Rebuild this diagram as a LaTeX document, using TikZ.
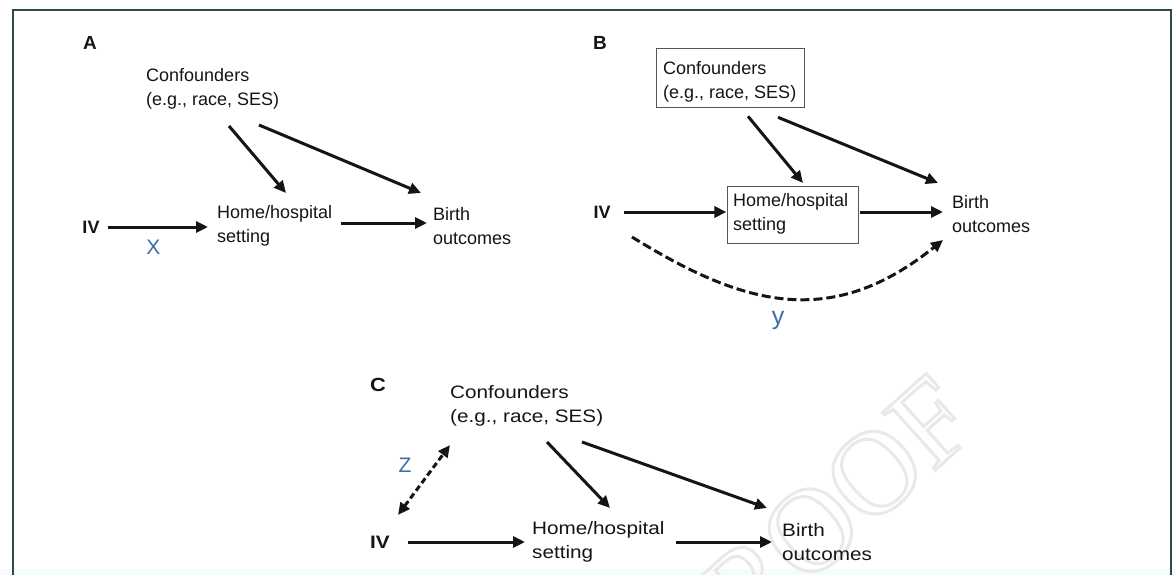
\documentclass[tikz,border=0pt]{standalone}
\usepackage{fontspec}
\setmainfont{Liberation Sans}
\newfontfamily\widefont[FakeStretch=1.15]{Liberation Sans}
\newfontfamily\wmfont{Liberation Serif}
\usetikzlibrary{arrows.meta}

\definecolor{ink}{HTML}{151515}
\definecolor{coefblue}{HTML}{3E6FA8}
\definecolor{framecol}{HTML}{2F4A4C}
\definecolor{boxcol}{HTML}{555555}

% outlined lettering (text render mode 1 = stroke only)
\newcommand{\outlined}[1]{\special{pdf:literal direct 1 Tr 3 w}#1\special{pdf:literal direct 0 Tr}}

\begin{document}
\begin{tikzpicture}[x=1pt,y=-1pt,
  lbl/.style={font=\fontsize{18}{24.5}\selectfont, text=ink, align=left, inner sep=0pt, anchor=west},
  lblw/.style={lbl, font=\widefont\fontsize{18}{24.5}\selectfont},
  panel/.style={font=\fontsize{19}{20}\selectfont\bfseries, text=ink, inner sep=0pt},
  ivlbl/.style={font=\fontsize{18}{20}\selectfont\bfseries, text=ink, inner sep=0pt},
  coef/.style={font=\fontsize{21}{24}\selectfont, text=coefblue, inner sep=0pt},
  arr/.style={draw=ink, line width=3pt, -{Triangle[length=12pt,width=11pt]}},
  dasharr/.style={arr, dash pattern=on 9pt off 4pt},
  framebox/.style={draw=boxcol, line width=1.3pt, inner sep=0pt, anchor=north west}
]
\useasboundingbox (0,0) rectangle (1176,575);
\fill[white] (0,0) rectangle (1176,575);
\fill[cyan!4] (0,569) rectangle (1176,575);

% watermark
\node[rotate=42, font=\wmfont\fontsize{119}{119}\selectfont, text=gray!17, inner sep=0pt] (wm) at (813,528) {\outlined{PROOF}};

% outer frame
\draw[framecol, line width=1.5pt] (13,576) -- (13,10) -- (1171,10) -- (1171,576);

% ---------- panel A ----------
\node[panel] (pA) at (90,43) {A};
\node[lbl] (confA) at (146,89) {Confounders\\(e.g., race, SES)};
\node[ivlbl] (ivA) at (91,227) {IV};
\node[lbl] (homeA) at (217,226) {Home/hospital\\setting};
\node[lbl] (birthA) at (433,226) {Birth\\outcomes};

\draw[arr, shorten <=8pt, shorten >=9pt] (ivA.east) -- (ivA.east -| homeA.west)
  node[coef, midway, below=12pt, xshift=-5pt] (xA) {X};
\draw[arr, shorten <=9pt, shorten >=6pt] ([yshift=3pt]homeA.east) -- ([yshift=3pt]homeA.east -| birthA.west);
\draw[arr] ([shift={(83,37)}]confA.west) -- ([shift={(69,-33)}]homeA.west);
\draw[arr] ([shift={(113,36)}]confA.west) -- ([shift={(-12,-33)}]birthA.west);

% ---------- panel B ----------
\node[panel] (pB) at (600,43) {B};
\node[framebox, minimum width=148pt, minimum height=59pt] (confB) at (656,48) {};
\node[lbl] (confBt) at (663,82) {Confounders\\(e.g., race, SES)};
\node[ivlbl] (ivB) at (602,212) {IV};
\node[framebox, minimum width=131pt, minimum height=57pt] (homeB) at (727,186) {};
\node[lbl] (homeBt) at (733,214) {Home/hospital\\setting};
\node[lbl] (birthB) at (952,214) {Birth\\outcomes};

\draw[arr, shorten <=13pt, shorten >=0.6pt] (ivB.east) -- (ivB.east -| homeB.west);
\draw[arr, shorten <=0.6pt, shorten >=9pt] (ivB.east -| homeB.east) -- (ivB.east -| birthB.west);
\draw[arr] ([shift={(92,8)}]confB.south west) -- ([shift={(76,-3)}]homeB.north west);
\draw[arr] ([shift={(122,9)}]confB.south west) -- ([shift={(-14,-31)}]birthB.west);
\draw[dasharr] ([shift={(30,25)}]ivB.center) .. controls +(110,68) and +(-113,91) .. ([shift={(-9,26)}]birthB.west);
\node[coef, font=\fontsize{25}{26}\selectfont] (yB) at (778,320) {y};

% ---------- panel C ----------
\node[panel, font=\widefont\fontsize{19}{20}\selectfont\bfseries] (pC) at (378,385) {C};
\node[lblw] (confC) at (450,406) {Confounders\\(e.g., race, SES)};
\node[ivlbl, font=\widefont\fontsize{18}{20}\selectfont\bfseries] (ivC) at (380,542) {IV};
\node[lblw] (homeC) at (532,542) {Home/hospital\\setting};
\node[lblw] (birthC) at (782,542) {Birth\\outcomes};

\draw[arr, shorten <=18pt, shorten >=7pt] (ivC.east) -- (ivC.east -| homeC.west);
\draw[arr, shorten <=11pt, shorten >=10pt] (homeC.east) -- (homeC.east -| birthC.west);
\draw[arr] ([shift={(97,36)}]confC.west) -- ([shift={(78,-34)}]homeC.west);
\draw[arr] ([shift={(132,36)}]confC.west) -- ([shift={(-15,-34)}]birthC.west);
\draw[dasharr, dash pattern=on 6pt off 3.5pt, {Triangle[length=12pt,width=11pt]}-{Triangle[length=12pt,width=11pt]}]
  ([shift={(18,-27)}]ivC.center) -- ([shift={(0,39)}]confC.west);
\node[coef] (zC) at (405,465) {Z};
\end{tikzpicture}
\end{document}
